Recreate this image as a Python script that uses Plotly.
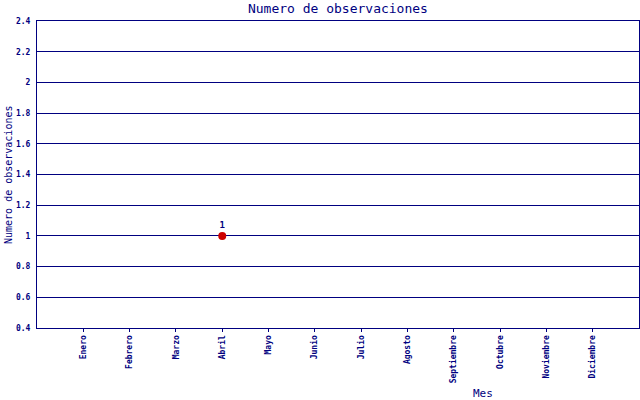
import plotly.graph_objects as go

meses = ["Enero", "Febrero", "Marzo", "Abril", "Mayo", "Junio", "Julio",
         "Agosto", "Septiembre", "Octubre", "Noviembre", "Diciembre"]
obs_mes = ["Abril"]
obs_val = [1]
y_ticks = [0.4, 0.6, 0.8, 1, 1.2, 1.4, 1.6, 1.8, 2, 2.2, 2.4]

navy = "#000080"
font = "DejaVu Sans Mono"

xidx = [meses.index(m) for m in obs_mes]

fig = go.Figure()
fig.add_trace(go.Scatter(
    x=xidx, y=obs_val, mode="markers+text",
    text=[str(v) for v in obs_val], textposition="top center",
    textfont=dict(family=font, size=9, color=navy, weight="bold"),
    marker=dict(color="#cc0000", size=8),
    showlegend=False, cliponaxis=False,
))

fig.update_layout(
    width=640, height=400,
    margin=dict(l=37, r=1, t=21, b=72, autoexpand=False),
    paper_bgcolor="white", plot_bgcolor="white",
    title=dict(text="Numero de observaciones", x=0.528, xanchor="center",
               y=0.978, yanchor="middle",
               font=dict(family=font, size=13, color=navy)),
    font=dict(family=font, color=navy),
    xaxis=dict(
        range=[-1, 12], tickmode="array", tickvals=list(range(len(meses))),
        ticktext=meses, tickangle=-90,
        tickfont=dict(family=font, size=8, color=navy, weight="bold"),
        showgrid=False, zeroline=False, showline=True, linecolor=navy, linewidth=1,
        mirror=True, ticks="outside", ticklen=3, tickcolor=navy, automargin=False,
    ),
    yaxis=dict(
        range=[0.4, 2.4], tickmode="array", tickvals=y_ticks,
        ticktext=[f"{v:g}" for v in y_ticks],
        tickfont=dict(family=font, size=8, color=navy, weight="bold"),
        showgrid=True, gridcolor=navy, gridwidth=1, zeroline=False,
        showline=True, linecolor=navy, linewidth=1, mirror=True,
        ticks="", ticklabelstandoff=4, automargin=False,
    ),
    annotations=[
        dict(text="Mes", x=483, y=393, showarrow=False,
             font=dict(family=font, size=11, color=navy)),
        dict(text="Numero de observaciones", x=8, y=175, textangle=-90,
             showarrow=False, font=dict(family=font, size=10, color=navy)),
    ],
)
# convert pixel positions for annotations
pw, ph = 640 - 37 - 1, 400 - 21 - 72
for a in fig.layout.annotations:
    a.x = (a.x - 37) / pw
    a.y = (400 - 72 - a.y) / ph
    a.xref = "paper"; a.yref = "paper"
    a.xanchor = "center"; a.yanchor = "middle"

fig.write_html("out.html", config={"displayModeBar": False},
               post_script="document.body.style.margin='0';document.body.style.padding='0';")
